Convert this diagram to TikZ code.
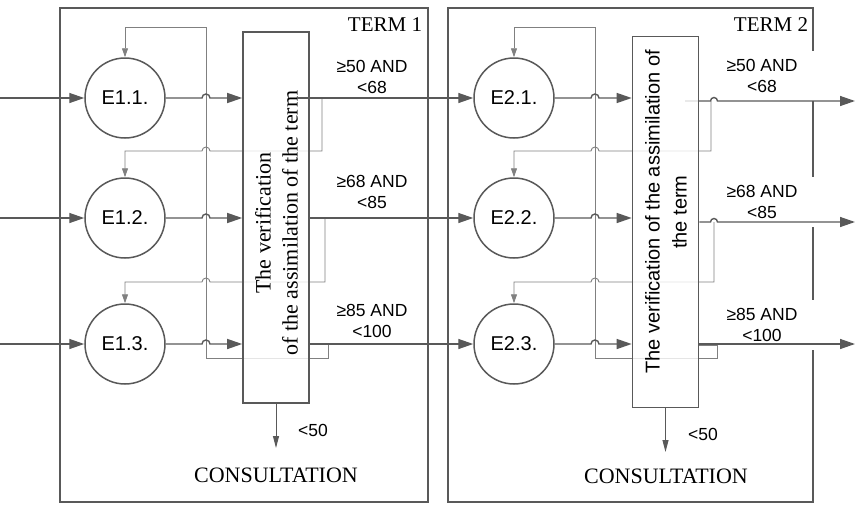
\documentclass[tikz,border=0pt]{standalone}
\usepackage{fontspec}
\setmainfont{Liberation Serif}
\newfontfamily\arial{Liberation Sans}
\usetikzlibrary{arrows.meta,positioning,calc}
\definecolor{linegray}{HTML}{595959}
\definecolor{backgray}{HTML}{808080}

\begin{document}
\begin{tikzpicture}[
  x=1pt,y=-1pt,
  termbox/.style={draw=linegray,line width=1.6pt,minimum width=368pt,
                  minimum height=494pt,inner sep=0pt},
  termlbl/.style={font=\fontsize{21}{24}\selectfont,inner sep=0pt},
  stage/.style={draw=linegray,line width=1.5pt,circle,minimum size=80pt,
                inner sep=0pt,font=\arial\fontsize{20}{24}\selectfont},
  verbox/.style={draw=linegray,line width=1.6pt,fill=white,fill opacity=0.8,
                 minimum width=66pt,minimum height=371pt,inner sep=0pt},
  vertext/.style={rotate=90,align=center,inner sep=0pt},
  scorelbl/.style={font=\arial\fontsize{17.5}{21}\selectfont,align=center,
                inner sep=0pt},
  flow/.style={draw=linegray,line width=1.4pt,
               -{Triangle[length=15pt,width=10pt]}},
  backflow/.style={draw=backgray,line width=0.9pt,
               -{Triangle[length=9pt,width=6pt]}},
  failflow/.style={draw=linegray,line width=1pt,
               -{Triangle[length=12pt,width=6pt]}}
]
\useasboundingbox (0,0) rectangle (855,504);

% the two terms
\node[termbox] (term1) at (244,255) {};
\node[termbox,minimum width=365pt] (term2) at (630.5,255) {};
\node[termlbl] (tl1) at (385,25) {TERM 1};
\node[termlbl] (tl2) at (771,25) {TERM 2};

% score ranges
\node[scorelbl] (r11) at (372,77) {≥50 AND\\<68};
\node[scorelbl] (r12) at (372,192) {≥68 AND\\<85};
\node[scorelbl] (r13) at (372,321) {≥85 AND\\<100};
\node[scorelbl,fill=white,minimum width=104pt,minimum height=50pt] (r21)
  at (762,76) {≥50 AND\\<68};
\node[scorelbl,fill=white,minimum width=104pt,minimum height=50pt] (r22)
  at (762,202) {≥68 AND\\<85};
\node[scorelbl,fill=white,minimum width=104pt,minimum height=50pt] (r23)
  at (762,325) {≥85 AND\\<100};

% stages
\node[stage] (e11) at (125,98) {E1.1.};
\node[stage] (e12) at (125,218) {E1.2.};
\node[stage] (e13) at (125,344) {E1.3.};
\node[stage] (e21) at (514,98) {E2.1.};
\node[stage] (e22) at (514,218) {E2.2.};
\node[stage] (e23) at (514,344) {E2.3.};

% back loops, term 1
\draw[backflow] (328,344) -- (328,358) -- (206,358) -- (206,27) -- (125,27)
  -- (e11.north);
\draw[backflow] (322,98) -- (322,151) -- (210,151)
  arc[start angle=0,end angle=-180,radius=4] -- (125,151) -- (e12.north);
\draw[backflow] (325,218) -- (325,282) -- (210,282)
  arc[start angle=0,end angle=-180,radius=4] -- (125,282) -- (e13.north);

% back loops, term 2
\draw[backflow] (699,345) -- (717,345) -- (717,358) -- (595,358) -- (595,27)
  -- (514,27) -- (e21.north);
\draw[backflow] (711,101) -- (711,151) -- (599,151)
  arc[start angle=0,end angle=-180,radius=4] -- (514,151) -- (e22.north);
\draw[backflow] (714,222) -- (714,282) -- (599,282)
  arc[start angle=0,end angle=-180,radius=4] -- (514,282) -- (e23.north);

\coordinate (end21) at (855,101);
\draw[flow] (685,101) -- (710.5,101)
  arc[start angle=180,end angle=360,radius=3.5] -- (end21);

% verification
\node[verbox] (ver1) at (276,217.5) {};
\node[verbox] (ver2) at (665.5,222) {};
\node[vertext,font=\fontsize{22}{27}\selectfont] (ver1txt) at (276.5,223)
  {The verification\\of the assimilation of the term};
\node[vertext,font=\arial\fontsize{20}{27}\selectfont] (ver2txt)
  at (666,212) {The verification of the assimilation of\\the term};

% inputs
\coordinate (in1) at (0,98);
\coordinate (in2) at (0,218);
\coordinate (in3) at (0,344);
\foreach \i in {1,2,3}
  \draw[flow] (in\i) -- (e1\i.west);

% stage to verification
\foreach \i in {1,2,3} {
  \draw[flow] (e1\i.east) -- (202,0 |- e1\i)
    arc[start angle=180,end angle=360,radius=4] -- (ver1.west |- e1\i);
  \draw[flow] (e2\i.east) -- (591,0 |- e2\i)
    arc[start angle=180,end angle=360,radius=4] -- (ver2.west |- e2\i);
}

% term 1 to term 2
\draw[flow] (297,98) -- (e21.west);
\draw[flow] (ver1.east |- e12) -- (e22.west);
\draw[flow] (ver1.east |- e13) -- (e23.west);

% term 2 outputs
\coordinate (end22) at (855,222);
\coordinate (end23) at (855,344);
\draw[flow] (ver2.east |- end22) -- (710.5,222)
  arc[start angle=180,end angle=360,radius=3.5] -- (end22);
\draw[flow] (ver2.east |- end23) -- (end23);

% consultation
\coordinate (out1) at (276,448);
\coordinate (out2) at (665.5,452);
\draw[failflow] (ver1.south) -- (out1);
\draw[failflow] (ver2.south) -- (out2);
\node[scorelbl] (lo1) at (313,430) {<50};
\node[scorelbl] (lo2) at (703,434) {<50};
\node[termlbl,font=\fontsize{22}{24}\selectfont] (cons1) at (276,475)
  {CONSULTATION};
\node[termlbl,font=\fontsize{22}{24}\selectfont] (cons2) at (666,476)
  {CONSULTATION};
\end{tikzpicture}
\end{document}
